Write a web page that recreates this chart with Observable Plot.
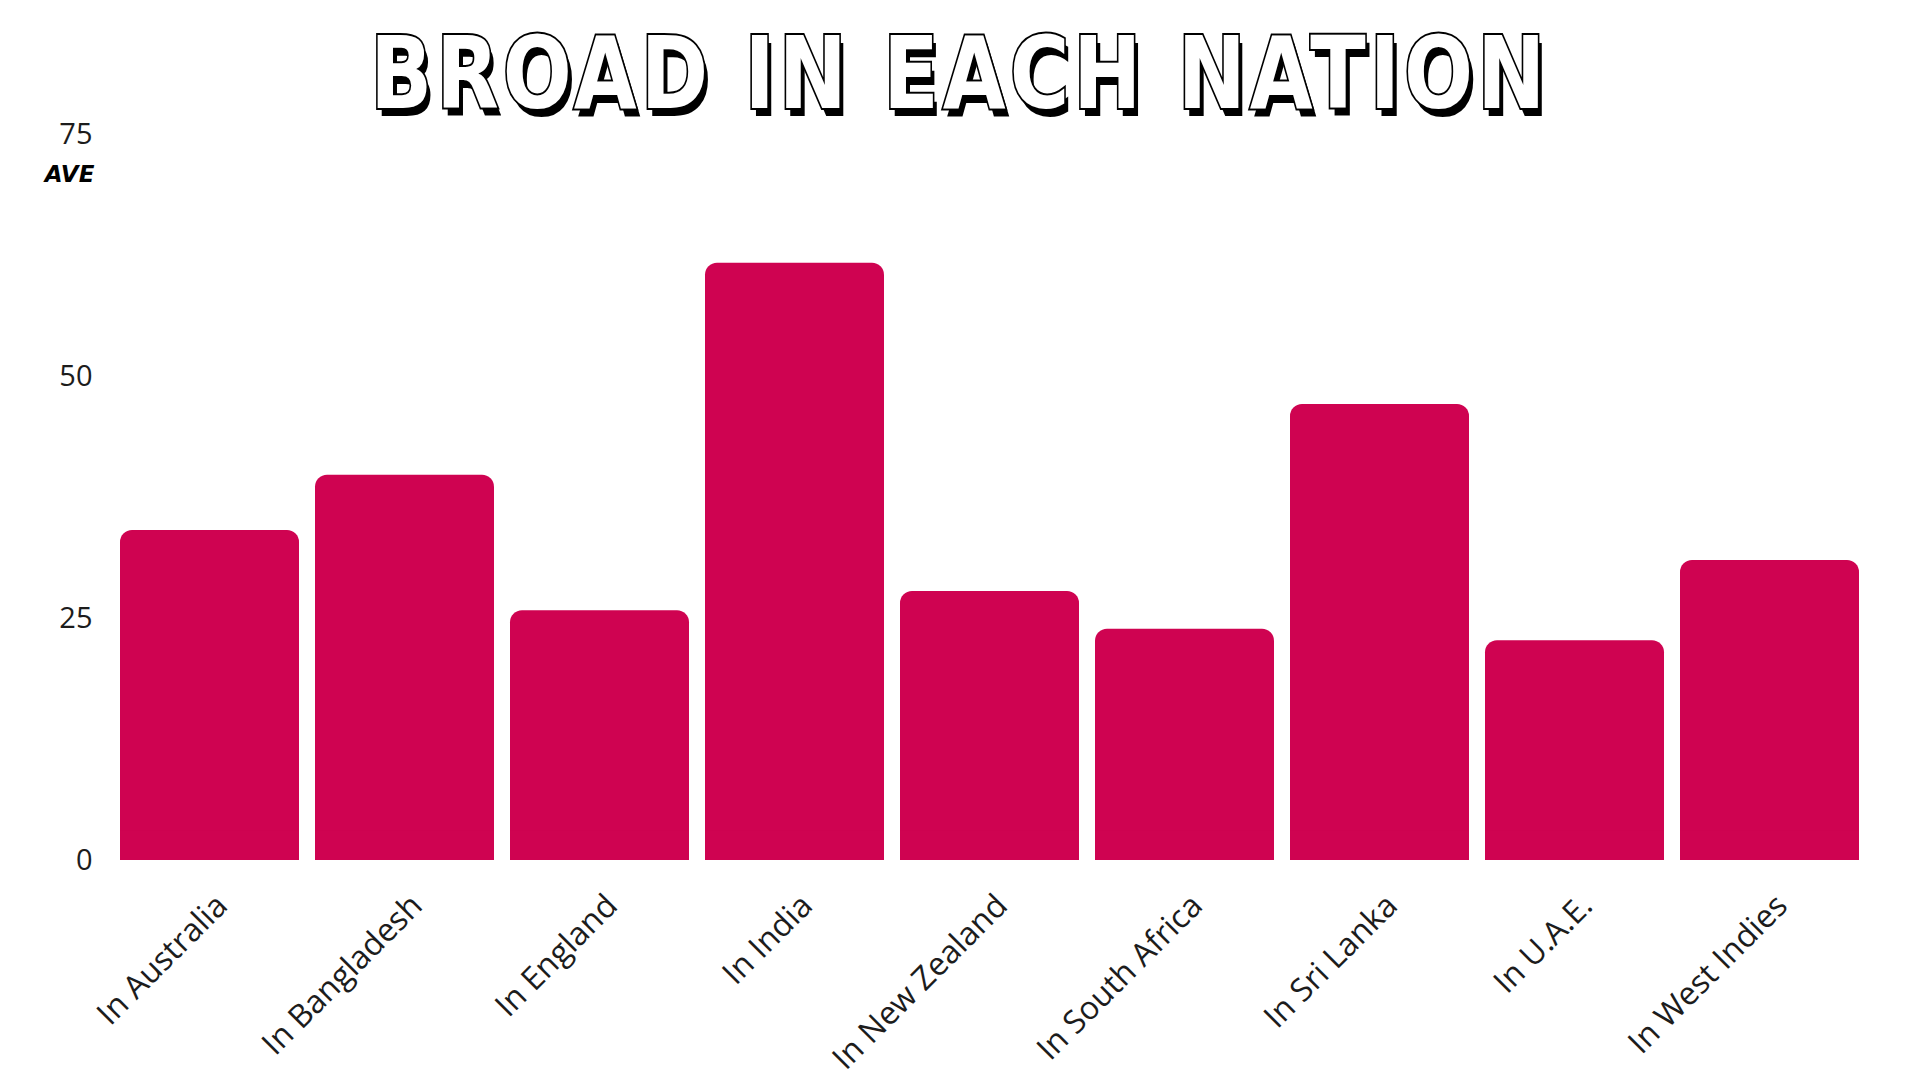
<!DOCTYPE html>
<html>
<head>
<meta charset="utf-8">
<script src="https://cdn.jsdelivr.net/npm/d3@7"></script>
<script src="https://cdn.jsdelivr.net/npm/@observablehq/plot@0.6"></script>
<style>
  html, body { margin: 0; padding: 0; background: #ffffff; }
  #wrap { position: relative; width: 1920px; height: 1080px; overflow: hidden; background: #ffffff; }
  #title {
    position: absolute; top: 24px; left: 0; width: 1920px; text-align: center;
    font-family: "DejaVu Sans", sans-serif; font-weight: bold; font-size: 100px; line-height: 1;
    letter-spacing: 5px;
    color: #ffffff; -webkit-text-stroke: 4px #000; paint-order: stroke fill;
    text-shadow: 5px 8px 0 #000; white-space: nowrap; z-index: 2;
  }
  #title span { display: inline-block; transform-origin: center center; }
  #chart { position: absolute; left: 0; top: 0; }
</style>
</head>
<body>
<div id="wrap">
  <div id="title"><span id="titleText">BROAD IN EACH NATION</span></div>
  <div id="chart"></div>
</div>
<script>
const nations = ["In Australia", "In Bangladesh", "In England", "In India", "In New Zealand", "In South Africa", "In Sri Lanka", "In U.A.E.", "In West Indies"];
const averages = [34.1, 39.8, 25.8, 61.7, 27.8, 23.9, 47.1, 22.7, 31.0];
const yTicks = [0, 25, 50, 75];
const yLabel = "AVE";
const barColor = "#CF0351";

const data = nations.map((n, i) => ({nation: n, ave: averages[i]}));

const chart = Plot.plot({
  width: 1920,
  height: 1080,
  marginTop: 134,
  marginBottom: 220,
  marginLeft: 101,
  marginRight: 42,
  style: {fontFamily: "'Open Sans', sans-serif", background: "transparent", color: "#1c1c1c"},
  x: {domain: nations, padding: 0.084, axis: null},
  y: {domain: [0, 75]},
  marks: [
    Plot.axisY({ticks: yTicks, tickSize: 0, tickPadding: 9, fontSize: 29, label: null, tickFormat: d => String(d)}),
    Plot.barY(data, {x: "nation", y: "ave", fill: barColor, rx: 12}),
    Plot.barY(data, {x: "nation", y1: 0, y2: d => Math.min(d.ave, 3), fill: barColor}),
    Plot.text(data, {x: "nation", y: 0, text: "nation", rotate: -45, textAnchor: "end", lineAnchor: "middle", dx: 12, dy: 40, fontSize: 32, fill: "#1c1c1c"}),
    Plot.text([yLabel], {frameAnchor: "top-left", text: d => d, dx: -32, dy: 40, textAnchor: "middle", lineAnchor: "middle", fontSize: 23, fontWeight: "bold", fontStyle: "italic", fontFamily: "'DejaVu Sans', sans-serif", fill: "#000"})
  ]
});
document.getElementById("chart").appendChild(chart);

// fit title width to reference span
const t = document.getElementById("titleText");
const w = t.getBoundingClientRect().width;
t.style.transform = `scaleX(${1179 / w})`;
</script>
</body>
</html>
